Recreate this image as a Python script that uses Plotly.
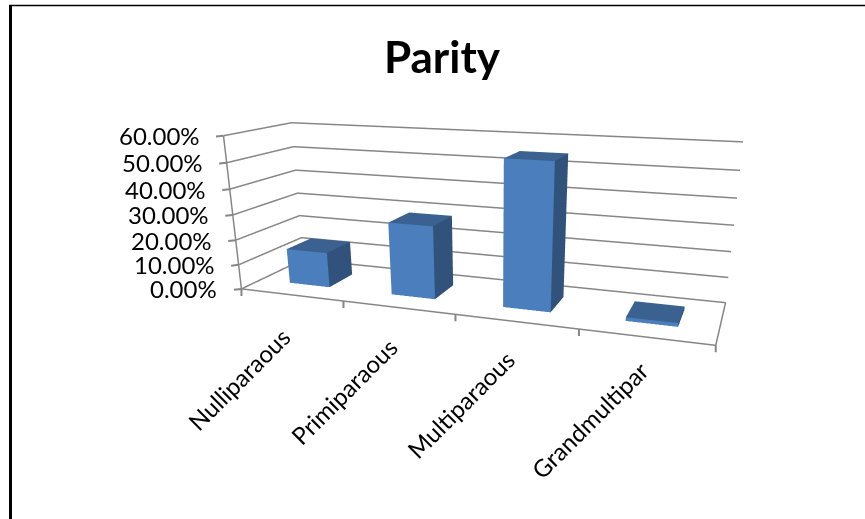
import plotly.graph_objects as go

categories = ["Nulliparaous", "Primiparaous", "Multiparaous", "Grandmultipar"]
parity_pct = [14.2, 28.6, 55.0, 1.4]
value_ticks = [0, 10, 20, 30, 40, 50, 60]
value_labels = ["0.00%", "10.00%", "20.00%", "30.00%", "40.00%", "50.00%", "60.00%"]
label_xshift = [-2, 0, 5, 11]

# The canvas runs below the visible page: plotly's 3D camera has a fixed field
# of view, so a taller scene is what gives a flatter perspective.
W, H = 865, 660
GRID = "#868686"
FRONT, TOP, SIDE = "#4b7ebc", "#3a618f", "#31527b"
BAR_X = (0.3, 0.7)
BAR_Y = (0.292, 0.700)

xs, ys, zs, ii, jj, kk, face_colors = [], [], [], [], [], [], []
for idx, value in enumerate(parity_pct):
    x0, x1 = idx + BAR_X[0], idx + BAR_X[1]
    y0, y1 = BAR_Y
    base = len(xs)
    for z in (0, value):
        xs += [x0, x1, x1, x0]
        ys += [y0, y0, y1, y1]
        zs += [z] * 4
    faces = [(0, 1, 5, FRONT), (0, 5, 4, FRONT), (4, 5, 6, TOP), (4, 6, 7, TOP), (1, 2, 6, SIDE), (1, 6, 5, SIDE)]
    for a, b, c, colour in faces:
        ii.append(base + a)
        jj.append(base + b)
        kk.append(base + c)
        face_colors.append(colour)

line_style = dict(color=GRID, width=3)
fig = go.Figure()
fig.add_trace(go.Mesh3d(
    x=xs, y=ys, z=zs, i=ii, j=jj, k=kk, facecolor=face_colors, flatshading=True,
    lighting=dict(ambient=1, diffuse=0, specular=0, fresnel=0, roughness=1),
    hoverinfo="skip", showscale=False,
))
# Floor outline and vertical value axis
fig.add_trace(go.Scatter3d(x=[0, 4, 4, 0, 0], y=[0, 0, 1, 1, 0], z=[0] * 5, mode="lines",
                           line=line_style, hoverinfo="skip", showlegend=False))
fig.add_trace(go.Scatter3d(x=[0, 0], y=[0, 0], z=[0, value_ticks[-1]], mode="lines",
                           line=line_style, hoverinfo="skip", showlegend=False))
# Gridlines along the left and back walls
for v in value_ticks:
    fig.add_trace(go.Scatter3d(x=[0, 0, 4], y=[0, 1, 1], z=[v, v, v], mode="lines",
                               line=line_style, hoverinfo="skip", showlegend=False))

label_font = dict(family="Lato", size=24, color="#000000")
tick_style = dict(text=" ", font=dict(size=1), showarrow=True, arrowhead=0, arrowwidth=2,
                  arrowcolor=GRID, standoff=0, startstandoff=0)
notes = [dict(x=0, y=0, z=v, text=t, showarrow=False, xanchor="right", yanchor="middle",
              xshift=-22, font=label_font) for v, t in zip(value_ticks, value_labels)]
notes += [dict(x=i, y=0, z=0, text=c, showarrow=False, textangle=-45, xanchor="center",
               yanchor="middle", xshift=s, yshift=-90, font=label_font)
          for i, (c, s) in enumerate(zip(categories, label_xshift))]
notes += [dict(x=i, y=0, z=0, ax=0, ay=9, **tick_style) for i in range(len(categories) + 1)]
notes += [dict(x=0, y=0, z=v, ax=-9, ay=1, **tick_style) for v in value_ticks]

hidden_axis = dict(showticklabels=False, ticks="", showgrid=False, zeroline=False, showline=False,
                   title=dict(text=""), showbackground=False, showspikes=False)

fig.update_layout(
    width=W, height=H, margin=dict(l=0, r=0, t=0, b=0), paper_bgcolor="white", showlegend=False,
    title=dict(text="<b>Parity</b>", x=0.511, xanchor="center", y=1 - 58 / H, yanchor="middle",
               font=dict(family="Lato", size=44, color="#000000")),
    shapes=[
        dict(type="line", xref="paper", yref="paper", x0=10.5 / W, x1=10.5 / W, y0=0, y1=1 - 5 / H,
             line=dict(color="#000000", width=3)),
        dict(type="line", xref="paper", yref="paper", x0=9 / W, x1=1, y0=1 - 5.5 / H, y1=1 - 5.5 / H,
             line=dict(color="#000000", width=1.5)),
    ],
    scene=dict(
        domain=dict(x=[0.1376, 1.0], y=[0, 1]),
        aspectmode="manual",
        aspectratio=dict(x=1, y=0.2501, z=0.3258),
        camera=dict(
            eye=dict(x=0.5571, y=-1.5043, z=0.3681),
            center=dict(x=0.0803, y=-0.1356, z=-0.1822),
            up=dict(x=-0.0068, y=0, z=1),
            projection=dict(type="perspective"),
        ),
        annotations=notes,
        xaxis=dict(range=[0, 4], **hidden_axis),
        yaxis=dict(range=[0, 1], **hidden_axis),
        zaxis=dict(range=[0, 60], **hidden_axis),
    ),
)
fig.write_html("out.html")
